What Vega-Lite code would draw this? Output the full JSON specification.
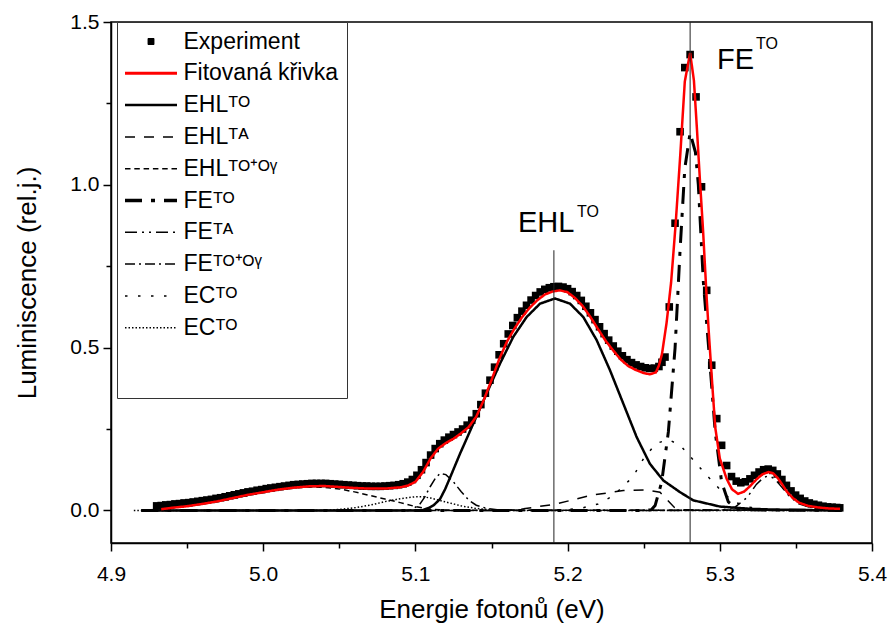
{
 "$schema": "https://vega.github.io/schema/vega-lite/v6.json",
 "width": 761, "height": 521,
 "autosize": "none",
 "padding": {"left": 111, "top": 22, "right": 18, "bottom": 80},
 "background": "white",
 "config": {
  "view": {"stroke": "black", "strokeWidth": 1.5},
  "font": "Liberation Sans",
  "axis": {"grid": false, "domainColor": "black", "domainWidth": 1.5, "tickColor": "black", "tickWidth": 1.5, "labelColor": "black", "titleColor": "black", "labelFont": "Liberation Sans", "titleFont": "Liberation Sans", "titleFontWeight": "normal", "labelFontSize": 21, "titleFontSize": 26, "labelFlush": false, "labelOverlap": false}
 },
 "data": {"values": [
  {"s":"Experiment","e":4.930,"v":0.014},{"s":"Experiment","e":4.933,"v":0.015},{"s":"Experiment","e":4.936,"v":0.017},{"s":"Experiment","e":4.939,"v":0.018},{"s":"Experiment","e":4.942,"v":0.020},{"s":"Experiment","e":4.945,"v":0.021},{"s":"Experiment","e":4.948,"v":0.023},{"s":"Experiment","e":4.951,"v":0.024},{"s":"Experiment","e":4.954,"v":0.026},{"s":"Experiment","e":4.957,"v":0.028},{"s":"Experiment","e":4.960,"v":0.030},{"s":"Experiment","e":4.963,"v":0.032},{"s":"Experiment","e":4.966,"v":0.034},{"s":"Experiment","e":4.969,"v":0.037},{"s":"Experiment","e":4.972,"v":0.039},{"s":"Experiment","e":4.975,"v":0.042},{"s":"Experiment","e":4.978,"v":0.045},{"s":"Experiment","e":4.981,"v":0.048},{"s":"Experiment","e":4.984,"v":0.051},{"s":"Experiment","e":4.987,"v":0.054},{"s":"Experiment","e":4.990,"v":0.057},{"s":"Experiment","e":4.993,"v":0.059},{"s":"Experiment","e":4.996,"v":0.062},{"s":"Experiment","e":4.999,"v":0.064},{"s":"Experiment","e":5.002,"v":0.067},{"s":"Experiment","e":5.005,"v":0.069},{"s":"Experiment","e":5.008,"v":0.071},{"s":"Experiment","e":5.011,"v":0.073},{"s":"Experiment","e":5.014,"v":0.075},{"s":"Experiment","e":5.017,"v":0.077},{"s":"Experiment","e":5.020,"v":0.079},{"s":"Experiment","e":5.023,"v":0.080},{"s":"Experiment","e":5.026,"v":0.081},{"s":"Experiment","e":5.029,"v":0.082},{"s":"Experiment","e":5.032,"v":0.083},{"s":"Experiment","e":5.035,"v":0.083},{"s":"Experiment","e":5.038,"v":0.083},{"s":"Experiment","e":5.041,"v":0.083},{"s":"Experiment","e":5.044,"v":0.082},{"s":"Experiment","e":5.047,"v":0.081},{"s":"Experiment","e":5.050,"v":0.080},{"s":"Experiment","e":5.053,"v":0.079},{"s":"Experiment","e":5.056,"v":0.078},{"s":"Experiment","e":5.059,"v":0.077},{"s":"Experiment","e":5.062,"v":0.076},{"s":"Experiment","e":5.065,"v":0.075},{"s":"Experiment","e":5.068,"v":0.075},{"s":"Experiment","e":5.071,"v":0.074},{"s":"Experiment","e":5.074,"v":0.074},{"s":"Experiment","e":5.077,"v":0.074},{"s":"Experiment","e":5.080,"v":0.075},{"s":"Experiment","e":5.083,"v":0.076},{"s":"Experiment","e":5.086,"v":0.077},{"s":"Experiment","e":5.089,"v":0.079},{"s":"Experiment","e":5.092,"v":0.082},{"s":"Experiment","e":5.095,"v":0.087},{"s":"Experiment","e":5.098,"v":0.095},{"s":"Experiment","e":5.101,"v":0.108},{"s":"Experiment","e":5.104,"v":0.125},{"s":"Experiment","e":5.107,"v":0.147},{"s":"Experiment","e":5.110,"v":0.170},{"s":"Experiment","e":5.113,"v":0.190},{"s":"Experiment","e":5.116,"v":0.205},{"s":"Experiment","e":5.119,"v":0.216},{"s":"Experiment","e":5.122,"v":0.225},{"s":"Experiment","e":5.125,"v":0.233},{"s":"Experiment","e":5.128,"v":0.241},{"s":"Experiment","e":5.131,"v":0.250},{"s":"Experiment","e":5.134,"v":0.262},{"s":"Experiment","e":5.137,"v":0.277},{"s":"Experiment","e":5.140,"v":0.297},{"s":"Experiment","e":5.143,"v":0.325},{"s":"Experiment","e":5.146,"v":0.360},{"s":"Experiment","e":5.149,"v":0.400},{"s":"Experiment","e":5.152,"v":0.440},{"s":"Experiment","e":5.155,"v":0.478},{"s":"Experiment","e":5.158,"v":0.512},{"s":"Experiment","e":5.161,"v":0.542},{"s":"Experiment","e":5.164,"v":0.568},{"s":"Experiment","e":5.167,"v":0.592},{"s":"Experiment","e":5.170,"v":0.612},{"s":"Experiment","e":5.173,"v":0.630},{"s":"Experiment","e":5.176,"v":0.646},{"s":"Experiment","e":5.179,"v":0.660},{"s":"Experiment","e":5.182,"v":0.671},{"s":"Experiment","e":5.185,"v":0.679},{"s":"Experiment","e":5.188,"v":0.684},{"s":"Experiment","e":5.191,"v":0.687},{"s":"Experiment","e":5.194,"v":0.688},{"s":"Experiment","e":5.197,"v":0.686},{"s":"Experiment","e":5.200,"v":0.681},{"s":"Experiment","e":5.203,"v":0.672},{"s":"Experiment","e":5.206,"v":0.660},{"s":"Experiment","e":5.209,"v":0.645},{"s":"Experiment","e":5.212,"v":0.627},{"s":"Experiment","e":5.215,"v":0.607},{"s":"Experiment","e":5.218,"v":0.586},{"s":"Experiment","e":5.221,"v":0.564},{"s":"Experiment","e":5.224,"v":0.543},{"s":"Experiment","e":5.227,"v":0.523},{"s":"Experiment","e":5.230,"v":0.505},{"s":"Experiment","e":5.233,"v":0.489},{"s":"Experiment","e":5.236,"v":0.475},{"s":"Experiment","e":5.239,"v":0.463},{"s":"Experiment","e":5.242,"v":0.454},{"s":"Experiment","e":5.245,"v":0.447},{"s":"Experiment","e":5.248,"v":0.442},{"s":"Experiment","e":5.251,"v":0.438},{"s":"Experiment","e":5.254,"v":0.436},{"s":"Experiment","e":5.257,"v":0.437},{"s":"Experiment","e":5.260,"v":0.442},{"s":"Experiment","e":5.262,"v":0.455},{"s":"Experiment","e":5.264,"v":0.471},{"s":"Experiment","e":5.2668,"v":0.625},{"s":"Experiment","e":5.2706,"v":0.882},{"s":"Experiment","e":5.2739,"v":1.163},{"s":"Experiment","e":5.277,"v":1.360},{"s":"Experiment","e":5.2805,"v":1.400},{"s":"Experiment","e":5.2844,"v":1.270},{"s":"Experiment","e":5.288,"v":0.994},{"s":"Experiment","e":5.2914,"v":0.676},{"s":"Experiment","e":5.2947,"v":0.446},{"s":"Experiment","e":5.298,"v":0.282},{"s":"Experiment","e":5.3012,"v":0.200},{"s":"Experiment","e":5.3045,"v":0.138},{"s":"Experiment","e":5.3077,"v":0.104},{"s":"Experiment","e":5.3108,"v":0.090},{"s":"Experiment","e":5.3138,"v":0.085},{"s":"Experiment","e":5.3168,"v":0.088},{"s":"Experiment","e":5.3198,"v":0.097},{"s":"Experiment","e":5.3228,"v":0.108},{"s":"Experiment","e":5.3258,"v":0.118},{"s":"Experiment","e":5.3288,"v":0.125},{"s":"Experiment","e":5.3318,"v":0.127},{"s":"Experiment","e":5.3348,"v":0.123},{"s":"Experiment","e":5.3378,"v":0.112},{"s":"Experiment","e":5.3408,"v":0.095},{"s":"Experiment","e":5.3438,"v":0.077},{"s":"Experiment","e":5.3468,"v":0.060},{"s":"Experiment","e":5.3498,"v":0.047},{"s":"Experiment","e":5.3528,"v":0.037},{"s":"Experiment","e":5.3558,"v":0.029},{"s":"Experiment","e":5.3588,"v":0.023},{"s":"Experiment","e":5.3618,"v":0.019},{"s":"Experiment","e":5.3648,"v":0.016},{"s":"Experiment","e":5.3678,"v":0.013},{"s":"Experiment","e":5.3708,"v":0.011},{"s":"Experiment","e":5.3738,"v":0.010},{"s":"Experiment","e":5.3768,"v":0.009},{"s":"Experiment","e":5.3788,"v":0.008},

  {"s":"Fit","e":4.933,"v":0.004},{"s":"Fit","e":4.940,"v":0.008},{"s":"Fit","e":4.950,"v":0.013},{"s":"Fit","e":4.960,"v":0.020},{"s":"Fit","e":4.970,"v":0.028},{"s":"Fit","e":4.980,"v":0.038},{"s":"Fit","e":4.990,"v":0.048},{"s":"Fit","e":5.000,"v":0.056},{"s":"Fit","e":5.010,"v":0.064},{"s":"Fit","e":5.020,"v":0.070},{"s":"Fit","e":5.030,"v":0.074},{"s":"Fit","e":5.040,"v":0.075},{"s":"Fit","e":5.050,"v":0.072},{"s":"Fit","e":5.060,"v":0.069},{"s":"Fit","e":5.070,"v":0.067},{"s":"Fit","e":5.080,"v":0.067},{"s":"Fit","e":5.090,"v":0.071},{"s":"Fit","e":5.095,"v":0.076},{"s":"Fit","e":5.100,"v":0.088},{"s":"Fit","e":5.105,"v":0.118},{"s":"Fit","e":5.110,"v":0.160},{"s":"Fit","e":5.115,"v":0.190},{"s":"Fit","e":5.120,"v":0.207},{"s":"Fit","e":5.125,"v":0.220},{"s":"Fit","e":5.130,"v":0.237},{"s":"Fit","e":5.135,"v":0.256},{"s":"Fit","e":5.140,"v":0.288},{"s":"Fit","e":5.145,"v":0.340},{"s":"Fit","e":5.150,"v":0.400},{"s":"Fit","e":5.155,"v":0.464},{"s":"Fit","e":5.160,"v":0.517},{"s":"Fit","e":5.165,"v":0.558},{"s":"Fit","e":5.170,"v":0.593},{"s":"Fit","e":5.175,"v":0.622},{"s":"Fit","e":5.180,"v":0.645},{"s":"Fit","e":5.185,"v":0.663},{"s":"Fit","e":5.190,"v":0.672},{"s":"Fit","e":5.195,"v":0.676},{"s":"Fit","e":5.200,"v":0.670},{"s":"Fit","e":5.205,"v":0.652},{"s":"Fit","e":5.210,"v":0.627},{"s":"Fit","e":5.215,"v":0.594},{"s":"Fit","e":5.220,"v":0.557},{"s":"Fit","e":5.225,"v":0.521},{"s":"Fit","e":5.230,"v":0.491},{"s":"Fit","e":5.235,"v":0.463},{"s":"Fit","e":5.240,"v":0.443},{"s":"Fit","e":5.245,"v":0.431},{"s":"Fit","e":5.250,"v":0.422},{"s":"Fit","e":5.254,"v":0.418},{"s":"Fit","e":5.258,"v":0.424},{"s":"Fit","e":5.260,"v":0.445},{"s":"Fit","e":5.262,"v":0.480},{"s":"Fit","e":5.265,"v":0.575},{"s":"Fit","e":5.268,"v":0.700},{"s":"Fit","e":5.271,"v":0.880},{"s":"Fit","e":5.274,"v":1.090},{"s":"Fit","e":5.277,"v":1.317},{"s":"Fit","e":5.2805,"v":1.405},{"s":"Fit","e":5.283,"v":1.320},{"s":"Fit","e":5.285,"v":1.170},{"s":"Fit","e":5.287,"v":1.010},{"s":"Fit","e":5.289,"v":0.860},{"s":"Fit","e":5.2914,"v":0.651},{"s":"Fit","e":5.293,"v":0.530},{"s":"Fit","e":5.295,"v":0.390},{"s":"Fit","e":5.297,"v":0.255},{"s":"Fit","e":5.300,"v":0.160},{"s":"Fit","e":5.3045,"v":0.097},{"s":"Fit","e":5.308,"v":0.065},{"s":"Fit","e":5.312,"v":0.051},{"s":"Fit","e":5.316,"v":0.058},{"s":"Fit","e":5.320,"v":0.075},{"s":"Fit","e":5.324,"v":0.095},{"s":"Fit","e":5.328,"v":0.111},{"s":"Fit","e":5.332,"v":0.118},{"s":"Fit","e":5.335,"v":0.114},{"s":"Fit","e":5.338,"v":0.100},{"s":"Fit","e":5.341,"v":0.080},{"s":"Fit","e":5.344,"v":0.058},{"s":"Fit","e":5.348,"v":0.038},{"s":"Fit","e":5.352,"v":0.024},{"s":"Fit","e":5.358,"v":0.014},{"s":"Fit","e":5.365,"v":0.009},{"s":"Fit","e":5.372,"v":0.006},{"s":"Fit","e":5.379,"v":0.005},

  {"s":"EHL_TO","e":4.920,"v":0},{"s":"EHL_TO","e":5.104,"v":0},{"s":"EHL_TO","e":5.108,"v":0.006},{"s":"EHL_TO","e":5.112,"v":0.016},{"s":"EHL_TO","e":5.1162,"v":0.035},{"s":"EHL_TO","e":5.1195,"v":0.065},{"s":"EHL_TO","e":5.1227,"v":0.100},{"s":"EHL_TO","e":5.1293,"v":0.174},{"s":"EHL_TO","e":5.138,"v":0.266},{"s":"EHL_TO","e":5.1468,"v":0.359},{"s":"EHL_TO","e":5.1556,"v":0.451},{"s":"EHL_TO","e":5.1643,"v":0.533},{"s":"EHL_TO","e":5.1731,"v":0.594},{"s":"EHL_TO","e":5.1819,"v":0.635},{"s":"EHL_TO","e":5.1917,"v":0.651},{"s":"EHL_TO","e":5.2016,"v":0.635},{"s":"EHL_TO","e":5.2103,"v":0.594},{"s":"EHL_TO","e":5.2191,"v":0.523},{"s":"EHL_TO","e":5.2279,"v":0.430},{"s":"EHL_TO","e":5.2366,"v":0.328},{"s":"EHL_TO","e":5.2454,"v":0.225},{"s":"EHL_TO","e":5.2541,"v":0.143},{"s":"EHL_TO","e":5.2629,"v":0.092},{"s":"EHL_TO","e":5.2739,"v":0.056},{"s":"EHL_TO","e":5.2826,"v":0.031},{"s":"EHL_TO","e":5.300,"v":0.012},{"s":"EHL_TO","e":5.320,"v":0.005},{"s":"EHL_TO","e":5.340,"v":0.002},{"s":"EHL_TO","e":5.380,"v":0},

  {"s":"EHL_TA","e":4.920,"v":0},{"s":"EHL_TA","e":5.160,"v":0},{"s":"EHL_TA","e":5.171,"v":0.005},{"s":"EHL_TA","e":5.1928,"v":0.020},{"s":"EHL_TA","e":5.2147,"v":0.046},{"s":"EHL_TA","e":5.2366,"v":0.061},{"s":"EHL_TA","e":5.252,"v":0.063},{"s":"EHL_TA","e":5.2607,"v":0.056},{"s":"EHL_TA","e":5.266,"v":0.030},{"s":"EHL_TA","e":5.270,"v":0.010},{"s":"EHL_TA","e":5.275,"v":0.002},{"s":"EHL_TA","e":5.380,"v":0},

  {"s":"EHL_TOOG","e":4.920,"v":0},{"s":"EHL_TOOG","e":4.930,"v":0.003},{"s":"EHL_TOOG","e":4.950,"v":0.012},{"s":"EHL_TOOG","e":4.970,"v":0.027},{"s":"EHL_TOOG","e":4.990,"v":0.046},{"s":"EHL_TOOG","e":5.000,"v":0.055},{"s":"EHL_TOOG","e":5.010,"v":0.063},{"s":"EHL_TOOG","e":5.020,"v":0.069},{"s":"EHL_TOOG","e":5.030,"v":0.072},{"s":"EHL_TOOG","e":5.040,"v":0.071},{"s":"EHL_TOOG","e":5.050,"v":0.066},{"s":"EHL_TOOG","e":5.060,"v":0.057},{"s":"EHL_TOOG","e":5.070,"v":0.046},{"s":"EHL_TOOG","e":5.080,"v":0.035},{"s":"EHL_TOOG","e":5.090,"v":0.024},{"s":"EHL_TOOG","e":5.100,"v":0.012},{"s":"EHL_TOOG","e":5.110,"v":0.004},{"s":"EHL_TOOG","e":5.120,"v":0.001},{"s":"EHL_TOOG","e":5.380,"v":0},

  {"s":"FE_TO","e":4.920,"v":0},{"s":"FE_TO","e":5.250,"v":0},{"s":"FE_TO","e":5.255,"v":0.002},{"s":"FE_TO","e":5.2575,"v":0.015},{"s":"FE_TO","e":5.2618,"v":0.087},{"s":"FE_TO","e":5.2662,"v":0.241},{"s":"FE_TO","e":5.2706,"v":0.498},{"s":"FE_TO","e":5.2739,"v":0.800},{"s":"FE_TO","e":5.277,"v":1.050},{"s":"FE_TO","e":5.2805,"v":1.160},{"s":"FE_TO","e":5.284,"v":1.100},{"s":"FE_TO","e":5.2859,"v":1.000},{"s":"FE_TO","e":5.2892,"v":0.702},{"s":"FE_TO","e":5.2936,"v":0.446},{"s":"FE_TO","e":5.297,"v":0.241},{"s":"FE_TO","e":5.3012,"v":0.087},{"s":"FE_TO","e":5.3056,"v":0.026},{"s":"FE_TO","e":5.312,"v":0.002},{"s":"FE_TO","e":5.380,"v":0},

  {"s":"FE_TA","e":4.920,"v":0},{"s":"FE_TA","e":5.300,"v":0},{"s":"FE_TA","e":5.310,"v":0.010},{"s":"FE_TA","e":5.318,"v":0.040},{"s":"FE_TA","e":5.324,"v":0.080},{"s":"FE_TA","e":5.329,"v":0.102},{"s":"FE_TA","e":5.332,"v":0.106},{"s":"FE_TA","e":5.336,"v":0.098},{"s":"FE_TA","e":5.341,"v":0.070},{"s":"FE_TA","e":5.346,"v":0.042},{"s":"FE_TA","e":5.352,"v":0.020},{"s":"FE_TA","e":5.360,"v":0.008},{"s":"FE_TA","e":5.370,"v":0.003},{"s":"FE_TA","e":5.380,"v":0},

  {"s":"FE_TOOG","e":4.920,"v":0},{"s":"FE_TOOG","e":5.095,"v":0},{"s":"FE_TOOG","e":5.098,"v":0.003},{"s":"FE_TOOG","e":5.103,"v":0.020},{"s":"FE_TOOG","e":5.106,"v":0.040},{"s":"FE_TOOG","e":5.1096,"v":0.072},{"s":"FE_TOOG","e":5.113,"v":0.098},{"s":"FE_TOOG","e":5.1162,"v":0.114},{"s":"FE_TOOG","e":5.120,"v":0.110},{"s":"FE_TOOG","e":5.125,"v":0.088},{"s":"FE_TOOG","e":5.130,"v":0.058},{"s":"FE_TOOG","e":5.135,"v":0.032},{"s":"FE_TOOG","e":5.140,"v":0.016},{"s":"FE_TOOG","e":5.147,"v":0.006},{"s":"FE_TOOG","e":5.155,"v":0.001},{"s":"FE_TOOG","e":5.380,"v":0},

  {"s":"EC_TO","e":4.920,"v":0},{"s":"EC_TO","e":5.190,"v":0},{"s":"EC_TO","e":5.200,"v":0.003},{"s":"EC_TO","e":5.210,"v":0.008},{"s":"EC_TO","e":5.220,"v":0.020},{"s":"EC_TO","e":5.230,"v":0.045},{"s":"EC_TO","e":5.240,"v":0.090},{"s":"EC_TO","e":5.245,"v":0.120},{"s":"EC_TO","e":5.250,"v":0.160},{"s":"EC_TO","e":5.258,"v":0.205},{"s":"EC_TO","e":5.266,"v":0.218},{"s":"EC_TO","e":5.274,"v":0.200},{"s":"EC_TO","e":5.282,"v":0.158},{"s":"EC_TO","e":5.290,"v":0.115},{"s":"EC_TO","e":5.296,"v":0.085},{"s":"EC_TO","e":5.303,"v":0.050},{"s":"EC_TO","e":5.310,"v":0.025},{"s":"EC_TO","e":5.320,"v":0.010},{"s":"EC_TO","e":5.330,"v":0.003},{"s":"EC_TO","e":5.380,"v":0},

  {"s":"EC_TOOG","e":4.915,"v":0},{"s":"EC_TOOG","e":5.040,"v":0},{"s":"EC_TOOG","e":5.050,"v":0.003},{"s":"EC_TOOG","e":5.060,"v":0.008},{"s":"EC_TOOG","e":5.070,"v":0.016},{"s":"EC_TOOG","e":5.080,"v":0.027},{"s":"EC_TOOG","e":5.090,"v":0.036},{"s":"EC_TOOG","e":5.100,"v":0.042},{"s":"EC_TOOG","e":5.105,"v":0.042},{"s":"EC_TOOG","e":5.110,"v":0.038},{"s":"EC_TOOG","e":5.120,"v":0.026},{"s":"EC_TOOG","e":5.130,"v":0.014},{"s":"EC_TOOG","e":5.140,"v":0.006},{"s":"EC_TOOG","e":5.150,"v":0.002},{"s":"EC_TOOG","e":5.160,"v":0},{"s":"EC_TOOG","e":5.380,"v":0}
 ]},
 "layer": [
  {
   "transform": [{"filter": "datum.s !== 'Experiment' && datum.s !== 'Fit'"}],
   "mark": {"type": "line", "clip": true},
   "encoding": {
    "x": {"field": "e", "type": "quantitative", "scale": {"domain": [4.9, 5.4], "nice": false, "zero": false},
     "axis": {"title": "Energie fotonů (eV)", "values": [4.9, 4.95, 5.0, 5.05, 5.1, 5.15, 5.2, 5.25, 5.3, 5.35, 5.4],
      "labelExpr": "abs(datum.value*10 - round(datum.value*10)) < 0.01 ? format(datum.value, '.1f') : ''",
      "tickSize": {"condition": {"test": "abs(datum.value*10 - round(datum.value*10)) < 0.01", "value": 8}, "value": 5},
      "labelPadding": 12, "titlePadding": 12}},
    "y": {"field": "v", "type": "quantitative", "scale": {"domain": [-0.1, 1.5], "nice": false, "zero": false},
     "axis": {"title": "Luminiscence (rel.j.)", "values": [0, 0.25, 0.5, 0.75, 1, 1.25, 1.5],
      "labelExpr": "abs(datum.value*2 - round(datum.value*2)) < 0.01 ? format(datum.value, '.1f') : ''",
      "tickSize": {"condition": {"test": "abs(datum.value*2 - round(datum.value*2)) < 0.01", "value": 8}, "value": 5},
      "labelPadding": 4, "titlePadding": 29}},
    "color": {"field": "s", "type": "nominal",
     "scale": {"domain": ["Experiment","Fit","EHL_TO","EHL_TA","EHL_TOOG","FE_TO","FE_TA","FE_TOOG","EC_TO","EC_TOOG"],
      "range": ["#000000","#ff0000","#000000","#000000","#000000","#000000","#000000","#000000","#000000","#000000"]},
     "legend": {"orient": "none", "legendX": 6, "legendY": 0, "title": " ", "titleOrient": "bottom", "titleFontSize": 8, "titlePadding": 42,
      "padding": 8, "strokeColor": "#333333", "fillColor": "white", "symbolSize": 100, "symbolOffset": 14.5, "labelOffset": 21,
      "labelFontSize": 23, "labelFont": "Liberation Sans", "labelColor": "black", "rowPadding": 7.8, "labelLimit": 300,
      "labelExpr": "datum.value == 'Experiment' ? 'Experiment' : datum.value == 'Fit' ? 'Fitovaná křivka' : datum.value == 'EHL_TO' ? 'EHLᵀᴼ' : datum.value == 'EHL_TA' ? 'EHLᵀᴬ' : datum.value == 'EHL_TOOG' ? 'EHLᵀᴼ⁺ᴼᵞ' : datum.value == 'FE_TO' ? 'FEᵀᴼ' : datum.value == 'FE_TA' ? 'FEᵀᴬ' : datum.value == 'FE_TOOG' ? 'FEᵀᴼ⁺ᴼᵞ' : 'ECᵀᴼ'",
      "encode": {"symbols": {"update": {
        "shape": {"signal": "datum.value === 'Experiment' ? 'M-0.6,-0.6H0.6V0.6H-0.6Z' : 'M-5.2,0H5.2'"},
        "size": {"value": 100},
        "fill": {"signal": "datum.value === 'Experiment' ? '#000000' : 'transparent'"},
        "stroke": {"signal": "datum.value === 'Fit' ? '#ff0000' : '#000000'"},
        "strokeWidth": {"signal": "datum.value === 'Experiment' ? 1 : datum.value === 'Fit' ? 3 : datum.value === 'EHL_TO' ? 2.5 : datum.value === 'FE_TO' ? 3.5 : 1.5"},
        "strokeDash": {"signal": "datum.value === 'EHL_TA' ? [10,9] : datum.value === 'EHL_TOOG' ? [5.5,3.8] : datum.value === 'FE_TO' ? [17,9,4,9] : datum.value === 'FE_TA' ? [12,5,2,5,2,5] : datum.value === 'FE_TOOG' ? [10,4,2,4] : datum.value === 'EC_TO' ? [2.5,10.5] : datum.value === 'EC_TOOG' ? [1.5,2] : [1,0]"},
        "opacity": {"value": 1}
      }}}}},
    "strokeDash": {"field": "s", "type": "nominal",
     "scale": {"domain": ["Experiment","Fit","EHL_TO","EHL_TA","EHL_TOOG","FE_TO","FE_TA","FE_TOOG","EC_TO","EC_TOOG"],
      "range": [[1,0],[1,0],[1,0],[10,9],[5.5,3.8],[17,9,4,9],[12,5,2,5,2,5],[10,4,2,4],[2.5,10.5],[1.5,2]]},
     "legend": null},
    "strokeWidth": {"field": "s", "type": "nominal",
     "scale": {"type": "ordinal", "domain": ["Experiment","Fit","EHL_TO","EHL_TA","EHL_TOOG","FE_TO","FE_TA","FE_TOOG","EC_TO","EC_TOOG"],
      "range": [1,3,2.5,1.5,1.5,3,1.5,1.5,1.5,1.5]},
     "legend": null}
   }
  },
  {
   "transform": [{"filter": "datum.s === 'Experiment'"}],
   "mark": {"type": "point", "filled": true, "size": 160, "opacity": 1, "clip": true, "shape": "M-0.6,-0.6H0.6V0.6H-0.6Z"},
   "encoding": {
    "x": {"field": "e", "type": "quantitative"},
    "y": {"field": "v", "type": "quantitative"},
    "color": {"field": "s", "type": "nominal"}
   }
  },
  {
   "transform": [{"filter": "datum.s === 'Fit'"}],
   "mark": {"type": "line", "clip": true},
   "encoding": {
    "x": {"field": "e", "type": "quantitative"},
    "y": {"field": "v", "type": "quantitative"},
    "color": {"field": "s", "type": "nominal"},
    "strokeDash": {"field": "s", "type": "nominal", "legend": null},
    "strokeWidth": {"field": "s", "type": "nominal", "legend": null}
   }
  },
  {
   "data": {"values": [{"e": 5.191, "lo": -0.1, "hi": 0.799}, {"e": 5.2805, "lo": -0.1, "hi": 1.5}]},
   "mark": {"type": "rule", "color": "#222222", "strokeWidth": 1},
   "encoding": {
    "x": {"field": "e", "type": "quantitative"},
    "y": {"field": "lo", "type": "quantitative"},
    "y2": {"field": "hi"}
   }
  },
  {
   "data": {"values": [{"t": "EHL", "e": 5.1674, "l": 0.8555}, {"t": "FE", "e": 5.2982, "l": 1.3548}]},
   "mark": {"type": "text", "align": "left", "baseline": "alphabetic", "fontSize": 29, "font": "Liberation Sans", "color": "black"},
   "encoding": {
    "x": {"field": "e", "type": "quantitative"},
    "y": {"field": "l", "type": "quantitative"},
    "text": {"field": "t"}
   }
  },
  {
   "data": {"values": [{"t": "TO", "e": 5.2062, "l": 0.9016}, {"t": "TO", "e": 5.3238, "l": 1.4162}]},
   "mark": {"type": "text", "align": "left", "baseline": "alphabetic", "fontSize": 16, "font": "Liberation Sans", "color": "black"},
   "encoding": {
    "x": {"field": "e", "type": "quantitative"},
    "y": {"field": "l", "type": "quantitative"},
    "text": {"field": "t"}
   }
  }
 ]
}
